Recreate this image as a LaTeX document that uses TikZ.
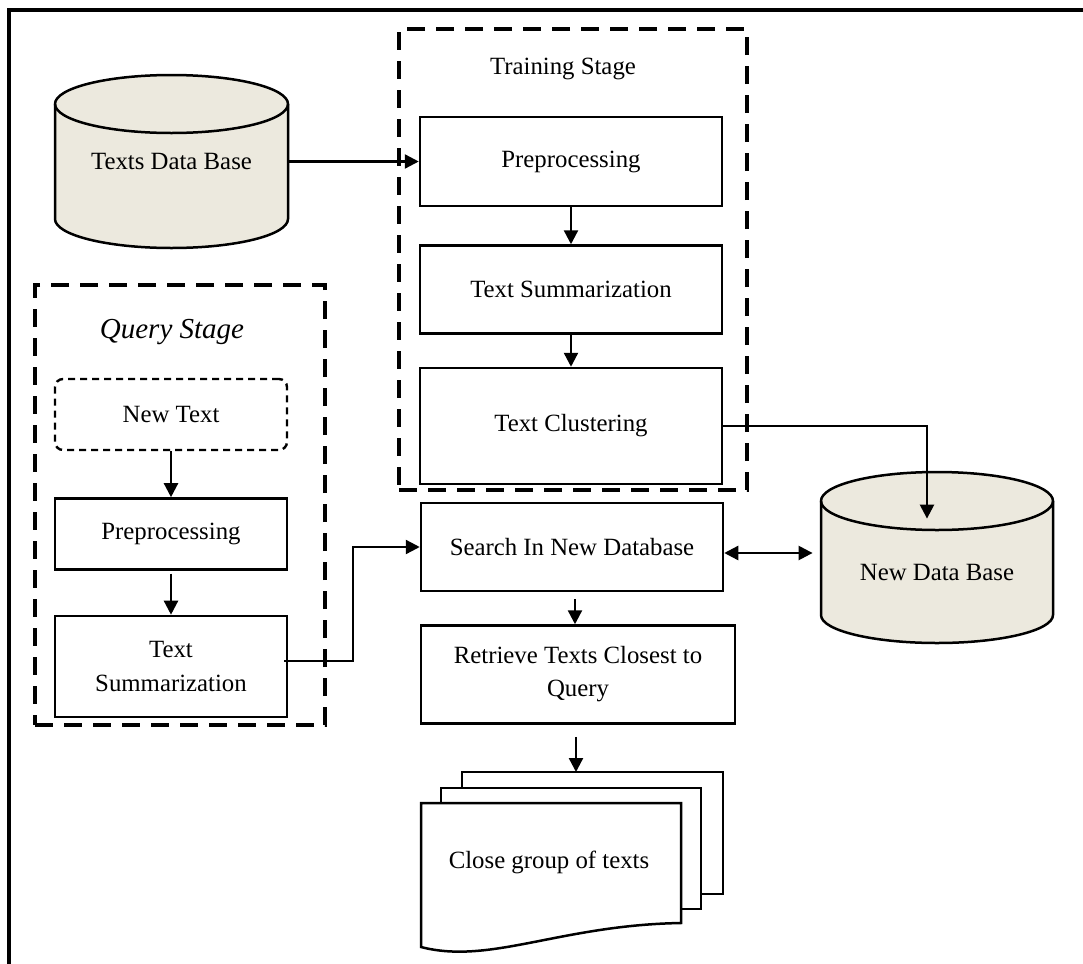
\documentclass[tikz,border=0pt]{standalone}
\usepackage{fontspec}
\setmainfont{Liberation Serif}
\usepackage{tikz}
\usetikzlibrary{arrows.meta,positioning,calc}
\definecolor{dbfill}{RGB}{236,233,222}

\begin{document}
\begin{tikzpicture}[x=0.5pt, y=-0.5pt,
  every node/.style={font=\fontsize{12.4}{16}\selectfont},
  procbox/.style={draw, line width=1.25pt, fill=white, align=center, inner sep=0pt,
    minimum width=151pt},
  stagebox/.style={draw, line width=1.7pt, dash pattern=on 9pt off 5.5pt, inner sep=0pt},
  flow/.style={line width=1.2pt, -{Triangle[length=7pt,width=7pt]}},
  biflow/.style={line width=1.2pt, {Triangle[length=7pt,width=7pt]}-{Triangle[length=7pt,width=7pt]}},
  sheet/.style={draw, line width=1.25pt, fill=white}]
  \useasboundingbox (0,0) rectangle (1083,964);
  % outer frame (only top and left edges show)
  \draw[line width=2pt] (9,964) -- (9,10) -- (1083,10);
  % Training stage frame
  \node[stagebox, minimum width=174pt, minimum height=230.5pt] (trainstage) at (573,259.5) {};
  \node (trainlbl) at (563,69) {Training Stage};
  % Query stage frame
  \node[stagebox, minimum width=145pt, minimum height=220pt] (querystage) at (180,505) {};
  \node[font=\fontsize{14.5}{17}\selectfont\itshape] (querylbl) at (172,332) {Query Stage};
  % Texts data base cylinder
  \draw[line width=1.25pt, fill=dbfill] (55,104) -- (55,219)
    arc[start angle=180, end angle=360, x radius=58.25pt, y radius=14.5pt]
    -- (288,104)
    arc[start angle=0, end angle=180, x radius=58.25pt, y radius=14.5pt] -- cycle;
  \draw[line width=1.25pt] (55,104)
    arc[start angle=180, end angle=360, x radius=58.25pt, y radius=14.5pt];
  \node[minimum width=116.5pt, minimum height=86.5pt, inner sep=0pt] (tdb) at (171.5,161.5) {Texts Data Base};
  % New data base cylinder
  \draw[line width=1.25pt, fill=dbfill] (821,501) -- (821,615)
    arc[start angle=180, end angle=360, x radius=58pt, y radius=14pt]
    -- (1053,501)
    arc[start angle=0, end angle=180, x radius=58pt, y radius=14.5pt] -- cycle;
  \draw[line width=1.25pt] (821,501)
    arc[start angle=180, end angle=360, x radius=58pt, y radius=14.5pt];
  \node[minimum width=116pt, minimum height=71pt, inner sep=0pt] (ndb) at (937,572) {New Data Base};
  % training column
  \node[procbox, minimum height=44.5pt] (tpre) at (571,161.5) {Preprocessing};
  \node[procbox, minimum height=44pt, below=18.5pt of tpre] (tsum) {Text Summarization};
  \node[procbox, minimum height=58pt, below=16pt of tsum] (tclus) {Text Clustering};
  % query column
  \node[procbox, minimum width=116pt, minimum height=35.5pt, line width=1.2pt,
    dash pattern=on 3.5pt off 2.5pt, rounded corners=4pt] (newtext) at (171,414.5) {New Text};
  \node[procbox, minimum width=116pt, minimum height=35.5pt, below=23pt of newtext] (qpre) {Preprocessing};
  \node[procbox, minimum width=116pt, minimum height=50.5pt, below=22pt of qpre] (qsum) {Text\\[1pt]Summarization};
  % search and retrieve
  \node[procbox, minimum height=44pt] (search) at (572,547) {Search In New Database};
  \node[procbox, minimum width=157pt, minimum height=49pt, below=16pt of search, xshift=3pt] (retrieve)
    {Retrieve Texts Closest to\\[0.5pt]Query};
  % stack of result documents
  \draw[sheet] (462,772) rectangle (723,894);
  \draw[sheet] (441,788) rectangle (701,909);
  \draw[sheet] (421,803) -- (681,803) -- (681,923)
    .. controls (560,925) and (490,965) .. (421,947) -- cycle;
  \node (docs) at (549,862) {Close group of texts};
  \coordinate (stacktop) at (576,772);
  \coordinate (bendx) at (353,600);
  % connectors
  \draw[flow] (tdb.east) -- (tpre.west);
  \draw[flow] (tpre.south) -- (tsum.north);
  \draw[flow] (tsum.south) -- (tclus.north);
  \draw[flow, shorten >=-9pt] (tclus.east) -| ([xshift=-5pt]ndb.north);
  \draw[flow] (newtext.south) -- (qpre.north);
  \draw[flow, shorten <=1.5pt] (qpre.south) -- (qsum.north);
  \draw[flow] ([xshift=-2pt,yshift=2.75pt]qsum.east) -- ([yshift=2.75pt]qsum.east -| bendx) |- (search.west);
  \draw[biflow, shorten >=4pt] ([yshift=-3pt]search.east) -- ([yshift=-3pt]search.east -| ndb.west);
  \draw[flow, shorten <=3.5pt] ([xshift=1.5pt]search.south) -- ([xshift=1.5pt]search.south |- retrieve.north);
  \draw[flow, shorten <=6pt] (retrieve.south -| stacktop) -- (stacktop);
\end{tikzpicture}
\end{document}
